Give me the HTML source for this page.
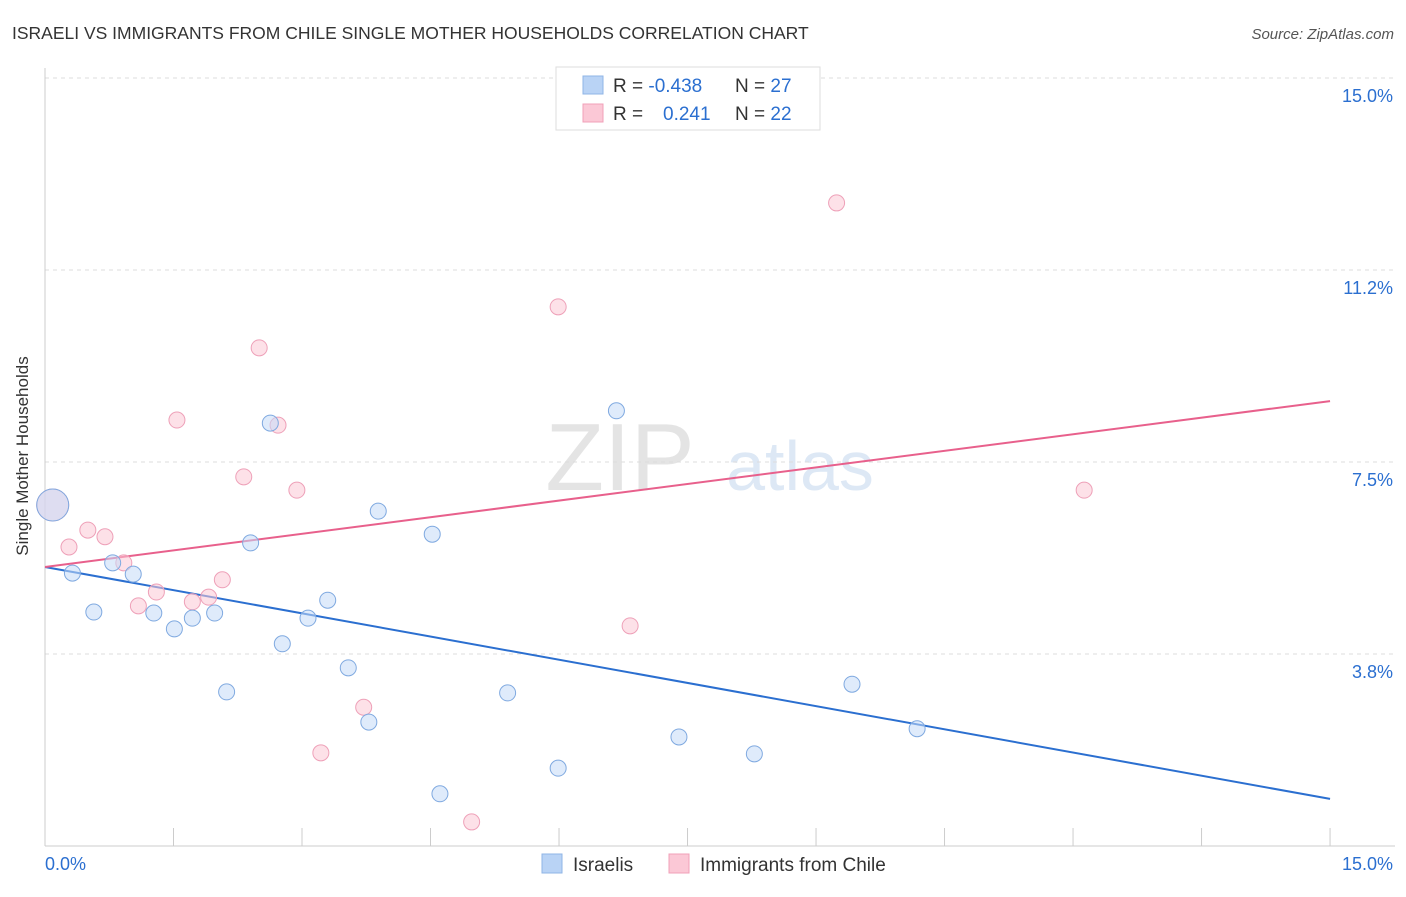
<!DOCTYPE html>
<html><head><meta charset="utf-8"><style>
body{margin:0;background:#fff;font-family:"Liberation Sans",sans-serif}
svg text{font-family:"Liberation Sans",sans-serif}
</style></head><body>
<svg width="1406" height="892" viewBox="0 0 1406 892">
<text x="12" y="39" font-size="17.5" fill="#333">ISRAELI VS IMMIGRANTS FROM CHILE SINGLE MOTHER HOUSEHOLDS CORRELATION CHART</text>
<text x="1394" y="39" font-size="15" fill="#555" text-anchor="end" font-style="italic">Source: ZipAtlas.com</text>
<text x="620" y="490" font-size="96" fill="#e4e4e4" font-family="Liberation Serif" text-anchor="middle">ZIP</text>
<text x="800" y="490" font-size="70" fill="#dde8f5" text-anchor="middle">atlas</text>
<g id="grid"></g><g id="axes"></g><g id="lines"></g><g id="pts"></g>
<text x="28" y="456" font-size="17" fill="#333" text-anchor="middle" transform="rotate(-90 28 456)">Single Mother Households</text>
<g>
<rect x="556" y="67" width="264" height="63" fill="#fff" stroke="#ddd"/>
<rect x="583" y="76" width="20" height="18" fill="#b9d3f5" stroke="#8fb4e6"/>
<rect x="583" y="104" width="20" height="18" fill="#fbc8d6" stroke="#f0a0b8"/>
<text x="613" y="92" font-size="19" fill="#333">R = <tspan fill="#2b6fd0">-0.438</tspan></text>
<text x="735" y="92" font-size="19" fill="#333">N = <tspan fill="#2b6fd0">27</tspan></text>
<text x="613" y="120" font-size="19" fill="#333">R = <tspan fill="#2b6fd0" x="663">0.241</tspan></text>
<text x="735" y="120" font-size="19" fill="#333">N = <tspan fill="#2b6fd0">22</tspan></text>
</g>
<g>
<rect x="542" y="854" width="20" height="19" fill="#b9d3f5" stroke="#8fb4e6"/>
<text x="573" y="871" font-size="19" fill="#333">Israelis</text>
<rect x="669" y="854" width="20" height="19" fill="#fbc8d6" stroke="#f0a0b8"/>
<text x="700" y="871" font-size="19" fill="#333">Immigrants from Chile</text>
</g>
</svg>
<script>
const blueX=[0.09,0.32,0.57,0.79,1.03,1.27,1.51,1.72,1.98,2.12,2.40,2.63,2.77,3.07,3.30,3.54,3.78,3.89,4.52,4.61,5.40,5.99,6.67,7.40,8.28,9.42,10.18];
const blueY=[6.66,5.33,4.57,5.53,5.31,4.55,4.24,4.45,4.55,3.01,5.92,8.26,3.95,4.45,4.80,3.48,2.42,6.54,6.09,1.02,2.99,1.52,8.50,2.13,1.80,3.16,2.29];
const pinkX=[0.09,0.28,0.50,0.70,0.92,1.09,1.30,1.54,1.72,1.91,2.07,2.32,2.50,2.72,2.94,3.22,3.72,4.98,5.99,6.83,9.24,12.13];
const pinkY=[6.66,5.84,6.17,6.04,5.53,4.69,4.96,8.32,4.77,4.86,5.20,7.21,9.73,8.22,6.95,1.82,2.71,0.47,10.53,4.30,12.56,6.95];
const blueTrend=[5.45,0.92];
const pinkTrend=[5.45,8.69];
const yTicks=[15.0,11.25,7.5,3.75];
const yTickLabels=["15.0%","11.2%","7.5%","3.8%"];
const xTicks=[1.5,3,4.5,6,7.5,9,10.5,12,13.5,15];
const NS="http://www.w3.org/2000/svg";
const sx=v=>45+v*85.67, sy=v=>846-v*51.2;
function mk(tag,attrs,parent){const e=document.createElementNS(NS,tag);for(const k in attrs)e.setAttribute(k,attrs[k]);document.getElementById(parent).appendChild(e);return e;}
yTicks.forEach((t,i)=>{
 const g=mk('line',{x1:45,x2:1395,y1:sy(t),y2:sy(t),stroke:'#ddd','stroke-dasharray':'4,4'},'grid');
 
 
 const l=mk('text',{x:1393,y:sy(t)+24,'font-size':18,fill:'#2b6fd0','text-anchor':'end'},'grid');
 l.textContent=yTickLabels[i];
 
 
});
const ax=mk('line',{x1:45,x2:45,y1:68,y2:846,stroke:'#ccc'},'axes');


const bx=mk('line',{x1:45,x2:1395,y1:846,y2:846,stroke:'#ccc'},'axes');


xTicks.forEach(t=>{
 const tk=mk('line',{x1:sx(t),x2:sx(t),y1:828,y2:846,stroke:'#ccc'},'axes');
 
 
});
const x0=mk('text',{x:45,y:870,'font-size':18,fill:'#2b6fd0'},'axes');x0.textContent='0.0%';


const x1=mk('text',{x:1393,y:870,'font-size':18,fill:'#2b6fd0','text-anchor':'end'},'axes');x1.textContent='15.0%';


function pts(X,Y,fill,stroke,name){X.forEach((x,i)=>{
 const c=mk('circle',{cx:sx(x),cy:sy(Y[i]),r:i===0?16:8,fill:fill,'fill-opacity':0.55,stroke:stroke,'stroke-width':1},'pts');
 
 
});}
pts(pinkX,pinkY,'#fbc8d6','#eea0b8','chile-point');
pts(blueX,blueY,'#c4dbf7','#7fa9e0','israeli-point');
const bl=mk('line',{x1:sx(0),y1:sy(blueTrend[0]),x2:sx(15),y2:sy(blueTrend[1]),stroke:'#2b6fd0','stroke-width':2},'lines');


const pl=mk('line',{x1:sx(0),y1:sy(pinkTrend[0]),x2:sx(15),y2:sy(pinkTrend[1]),stroke:'#e8608c','stroke-width':2},'lines');


</script>
</body></html>
